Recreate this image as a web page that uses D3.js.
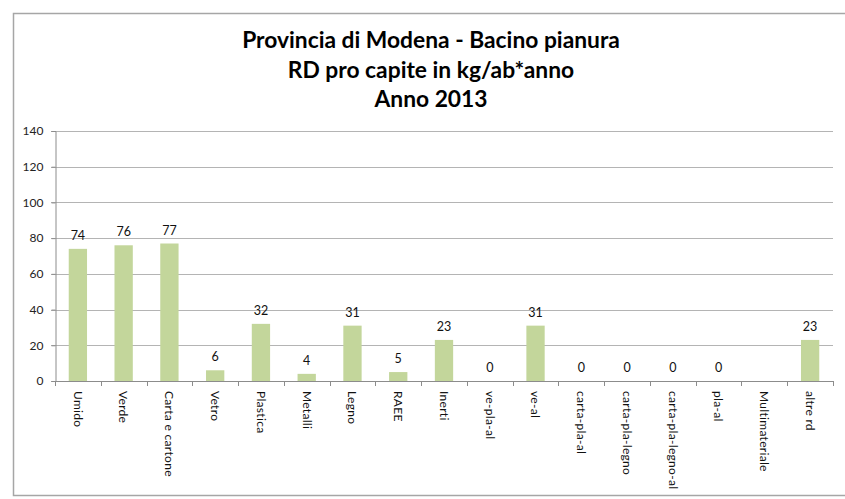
<!DOCTYPE html>
<html>
<head>
<meta charset="utf-8">
<script src="https://cdn.jsdelivr.net/npm/d3@7"></script>
<style>
  html, body { margin: 0; padding: 0; background: #ffffff; }
  svg { display: block; }
  text { font-family: Lato, "Open Sans", "DejaVu Sans", sans-serif; }
</style>
</head>
<body>
<svg id="chart" width="845" height="499"></svg>
<script>
// Waste categories collected separately (RD) and per-capita values, kg/inhabitant/year
const categories = [
  "Umido", "Verde", "Carta e cartone", "Vetro", "Plastica", "Metalli",
  "Legno", "RAEE", "Inerti", "ve-pla-al", "ve-al", "carta-pla-al",
  "carta-pla-legno", "carta-pla-legno-al", "pla-al", "Multimateriale", "altre rd"
];
const values = [74, 76, 77, 6, 32, 4, 31, 5, 23, 0, 31, 0, 0, 0, 0, null, 23];
const yTicks = [0, 20, 40, 60, 80, 100, 120, 140];
const titleLines = [
  "Provincia di Modena - Bacino pianura",
  "RD pro capite in kg/ab*anno",
  "Anno 2013"
];

const svg = d3.select("#chart");

// Outer chart frame (open on the right)
svg.append("path")
  .attr("d", "M845,13.5 H13.5 V495.5 H845")
  .attr("fill", "none")
  .attr("stroke", "#a6a6a6")
  .attr("stroke-width", 1.5);

// Title
const title = svg.append("text")
  .attr("text-anchor", "middle")
  .attr("font-weight", "bold")
  .attr("font-size", 22.8)
  .attr("fill", "#000");
titleLines.forEach((t, i) => {
  title.append("tspan")
    .attr("x", 431)
    .attr("y", 48 + i * 29.5)
    .text(t);
});

const x0 = 55, x1 = 833, yTop = 131, yBot = 381;

const x = d3.scaleBand()
  .domain(categories)
  .range([x0, x1])
  .paddingInner(0.6)
  .paddingOuter(0.3);

const y = d3.scaleLinear()
  .domain([0, 140])
  .range([yBot, yTop]);

// Horizontal gridlines
svg.append("g")
  .selectAll("line")
  .data(yTicks)
  .join("line")
  .attr("x1", x0 - 4)
  .attr("x2", x1)
  .attr("y1", d => Math.round(y(d)) + 0.5)
  .attr("y2", d => Math.round(y(d)) + 0.5)
  .attr("stroke", "#b4b4b4")
  .attr("stroke-width", 1);

// Y axis
const yAxis = svg.append("g")
  .attr("transform", `translate(${x0 + 0.5},0)`)
  .call(d3.axisLeft(y).tickValues(yTicks).tickSize(4).tickPadding(8));
yAxis.select(".domain").attr("stroke", "#8c8c8c");
yAxis.selectAll(".tick line").attr("stroke", "#8c8c8c");
yAxis.selectAll(".tick text")
  .attr("font-size", 12)
  .attr("font-family", "Lato, 'Open Sans', sans-serif")
  .attr("fill", "#222");

// Bars
svg.append("g")
  .selectAll("rect")
  .data(categories.map((c, i) => ({ c, v: values[i] })).filter(d => d.v !== null && d.v > 0))
  .join("rect")
  .attr("x", d => x(d.c))
  .attr("y", d => y(d.v))
  .attr("width", x.bandwidth())
  .attr("height", d => y(0) - y(d.v))
  .attr("fill", "#c3d69b");

// Value labels
svg.append("g")
  .selectAll("text")
  .data(categories.map((c, i) => ({ c, v: values[i] })).filter(d => d.v !== null))
  .join("text")
  .attr("x", d => x(d.c) + x.bandwidth() / 2)
  .attr("y", d => y(d.v) - 9)
  .attr("text-anchor", "middle")
  .attr("font-size", 12.5)
  .attr("fill", "#111")
  .text(d => d.v);

// X axis baseline and category boundary ticks
const step = x.step();
const bounds = d3.range(categories.length + 1).map(i => x0 + i * step);
svg.append("line")
  .attr("x1", x0).attr("x2", x1)
  .attr("y1", yBot + 0.5).attr("y2", yBot + 0.5)
  .attr("stroke", "#8c8c8c");
svg.append("g")
  .selectAll("line")
  .data(bounds)
  .join("line")
  .attr("x1", d => Math.round(d) + 0.5)
  .attr("x2", d => Math.round(d) + 0.5)
  .attr("y1", yBot)
  .attr("y2", yBot + 5)
  .attr("stroke", "#8c8c8c");

// Category labels, rotated to read top-to-bottom
svg.append("g")
  .selectAll("text")
  .data(categories)
  .join("text")
  .attr("transform", d => `translate(${x(d) + x.bandwidth() / 2},${yBot + 10}) rotate(90)`)
  .attr("dy", "0.35em")
  .attr("text-anchor", "start")
  .attr("font-size", 12)
  .attr("letter-spacing", 0.3)
  .attr("fill", "#111")
  .text(d => d);
</script>
</body>
</html>
